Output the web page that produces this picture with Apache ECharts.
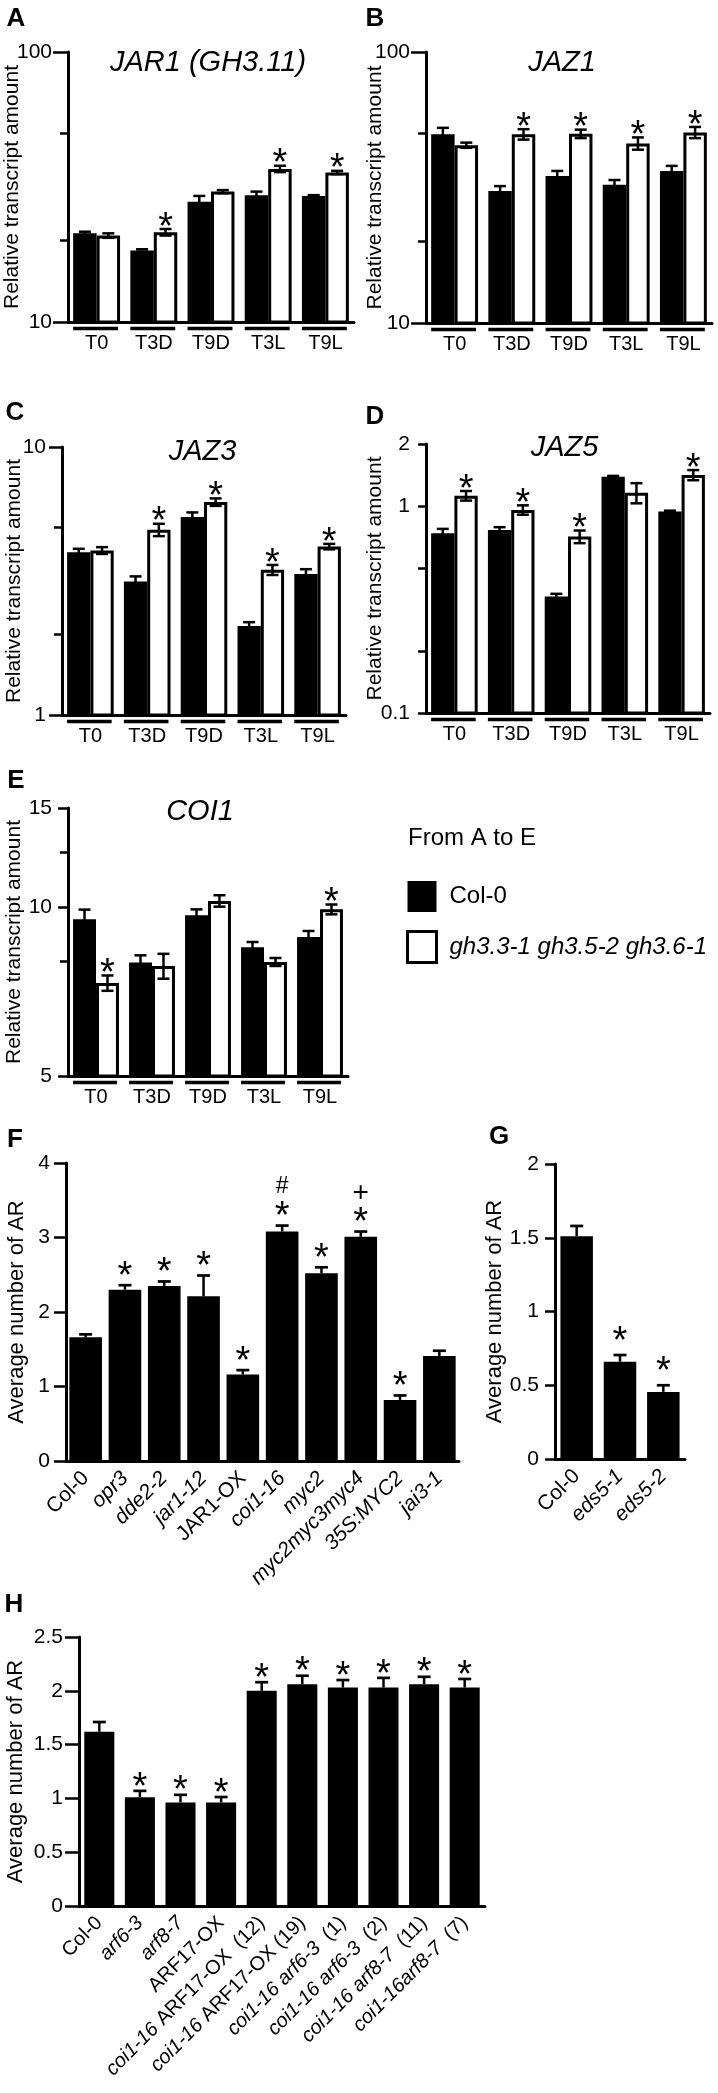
<!DOCTYPE html>
<html><head><meta charset="utf-8">
<script src="https://cdn.jsdelivr.net/npm/echarts@6/dist/echarts.min.js"></script>
<style>html,body{margin:0;padding:0;background:#fff}#c{width:718px;height:2093px}</style>
</head><body><div id="c"></div>
<script>
const FONT = '"Liberation Sans", Arial, Helvetica, sans-serif';
const COL_NAME = 'Col-0';
const MUT_NAME = 'gh3.3-1 gh3.5-2 gh3.6-1';

// ---------- A-E : transcript amounts ----------
const timeCats = ['T0', 'T3D', 'T9D', 'T3L', 'T9L'];

// A  JAR1 (GH3.11)
const jar1Col = [21.3, 18.4, 27.9, 29.5, 29.3];
const jar1ColErr = [0.3, 0.2, 1.4, 0.9, 0.2];
const jar1Mut = [20.9, 21.5, 30.4, 36.9, 35.8];
const jar1MutErr = [0.4, 0.6, 0.4, 1.0, 0.5];
const jar1Sig = [0, 1, 0, 1, 1];
const jar1Ticks = [10, 100];
const jar1Minor = [20, 50];

// B  JAZ1
const jaz1Col = [49.7, 30.7, 34.9, 32.4, 36.4];
const jaz1ColErr = [2.8, 1.3, 1.5, 1.3, 1.6];
const jaz1Mut = [45.3, 49.7, 49.9, 46.0, 50.5];
const jaz1MutErr = [1.0, 2.2, 1.8, 2.4, 2.4];
const jaz1Sig = [0, 1, 1, 1, 1];
const jaz1Ticks = [10, 100];
const jaz1Minor = [20, 50];

// C  JAZ3
const jaz3Col = [4.05, 3.15, 5.48, 2.15, 3.36];
const jaz3ColErr = [0.12, 0.14, 0.22, 0.07, 0.14];
const jaz3Mut = [4.11, 4.91, 6.23, 3.48, 4.25];
const jaz3MutErr = [0.12, 0.26, 0.2, 0.15, 0.1];
const jaz3Sig = [0, 1, 1, 1, 1];
const jaz3Ticks = [1, 10];
const jaz3Minor = [2, 5];

// D  JAZ5
const jaz5Col = [0.741, 0.768, 0.366, 1.39, 0.942];
const jaz5ColErr = [0.036, 0.024, 0.011, 0.012, 0.01];
const jaz5Mut = [1.125, 0.960, 0.713, 1.163, 1.416];
const jaz5MutErr = [0.06, 0.05, 0.05, 0.13, 0.08];
const jaz5Sig = [1, 1, 1, 0, 1];
const jaz5Ticks = [0.1, 1, 2];
const jaz5Minor = [0.2, 0.5];

// E  COI1
const coi1Col = [9.51, 7.96, 9.66, 8.48, 8.84];
const coi1ColErr = [0.38, 0.24, 0.24, 0.18, 0.22];
const coi1Mut = [7.32, 7.85, 10.25, 7.98, 9.90];
const coi1MutErr = [0.23, 0.4, 0.24, 0.13, 0.2];
const coi1Sig = [1, 0, 0, 0, 1];
const coi1Ticks = [5, 10, 15];
const coi1Minor = [8, 12.5];

// ---------- F ----------
const fCats = ['Col-0', 'opr3', 'dde2-2', 'jar1-12', 'JAR1-OX', 'coi1-16', 'myc2', 'myc2myc3myc4', '35S:MYC2', 'jai3-1'];
const fItalic = [false, true, true, true, false, true, true, true, true, true];
const fMean = [1.66, 2.30, 2.35, 2.21, 1.16, 3.08, 2.52, 3.01, 0.82, 1.41];
const fErr = [0.04, 0.06, 0.06, 0.28, 0.06, 0.08, 0.08, 0.07, 0.06, 0.07];
const fSig = [0, 1, 1, 1, 1, 1, 1, 1, 1, 0];
const fExtra = ['', '', '', '', '', '#', '', '+', '', ''];

// ---------- G ----------
const gCats = ['Col-0', 'eds5-1', 'eds5-2'];
const gItalic = [false, true, true];
const gMean = [1.51, 0.66, 0.455];
const gErr = [0.07, 0.045, 0.045];
const gSig = [0, 1, 1];
const gExtra = ['', '', ''];

// ---------- H ----------
const hCats = ['Col-0', 'arf6-3', 'arf8-7', 'ARF17-OX', 'coi1-16 ARF17-OX  (12)', 'coi1-16 ARF17-OX (19)',
  'coi1-16 arf6-3  (1)', 'coi1-16 arf6-3  (2)', 'coi1-16 arf8-7  (11)', 'coi1-16arf8-7  (7)'];
const hMean = [1.62, 1.01, 0.963, 0.963, 2.0, 2.06, 2.03, 2.03, 2.06, 2.03];
const hErr = [0.09, 0.06, 0.07, 0.05, 0.08, 0.08, 0.07, 0.09, 0.07, 0.08];
const hSig = [0, 1, 1, 1, 1, 1, 1, 1, 1, 1];
const hExtra = ['', '', '', '', '', '', '', '', '', ''];

// ---------- helpers ----------
const AST = 38;
function astText(x, yHi, gap) {
  return {type: 'text', style: {text: '*', x: x, y: yHi - gap + 0.083 * AST, align: 'center', verticalAlign: 'middle',
    font: 'normal ' + AST + 'px ' + FONT, fill: '#000'}};
}

function makePair(errArr, sigArr, isMut) {
  return function (params, api) {
    const i = params.dataIndex;
    const cs = params.coordSys;
    const cat = api.value(0), v = api.value(1);
    const p = api.coord([cat, v]);
    const band = api.coord([1, v])[0] - api.coord([0, v])[0];
    const bw = band * 0.82 / 2;
    const x0 = isMut ? p[0] : p[0] - bw;
    const yBot = cs.y + cs.height;
    const yTop = p[1];
    const e = errArr[i];
    const yHi = api.coord([cat, v + e])[1];
    const yLo = api.coord([cat, v - e])[1];
    const ex = x0 + bw / 2, cap = 6;
    const ch = [];
    if (isMut) {
      ch.push({type: 'rect', shape: {x: x0 + 1.5, y: yTop + 1.5, width: bw - 3, height: yBot - yTop - 1.5},
        style: {fill: '#fff', stroke: '#000', lineWidth: 3}});
    } else {
      ch.push({type: 'rect', shape: {x: x0, y: yTop, width: bw, height: yBot - yTop}, style: {fill: '#000'}});
      ch.push({type: 'line', shape: {x1: p[0] - bw, y1: yBot + 6.5, x2: p[0] + bw - 2, y2: yBot + 6.5},
        style: {stroke: '#000', lineWidth: 3.3}});
    }
    ch.push({type: 'line', shape: {x1: ex, y1: yHi, x2: ex, y2: yLo}, style: {stroke: '#000', lineWidth: 2.5}});
    ch.push({type: 'line', shape: {x1: ex - cap, y1: yHi, x2: ex + cap, y2: yHi}, style: {stroke: '#000', lineWidth: 2.5}});
    ch.push({type: 'line', shape: {x1: ex - cap, y1: yLo, x2: ex + cap, y2: yLo}, style: {stroke: '#000', lineWidth: 2.5}});
    if (sigArr && sigArr[i]) ch.push(astText(ex, yHi, 4));
    return {type: 'group', children: ch};
  };
}

function makeSingle(frac, errArr, sigArr, extraArr, gap) {
  return function (params, api) {
    const i = params.dataIndex;
    const cs = params.coordSys;
    const cat = api.value(0), v = api.value(1);
    const p = api.coord([cat, v]);
    const band = api.coord([1, v])[0] - api.coord([0, v])[0];
    const bw = band * frac;
    const yBot = cs.y + cs.height;
    const yHi = api.coord([cat, v + errArr[i]])[1];
    const ex = p[0], cap = 6.5;
    const ch = [];
    ch.push({type: 'rect', shape: {x: p[0] - bw / 2, y: p[1], width: bw, height: yBot - p[1]}, style: {fill: '#000'}});
    ch.push({type: 'line', shape: {x1: ex, y1: yHi, x2: ex, y2: p[1]}, style: {stroke: '#000', lineWidth: 2.5}});
    ch.push({type: 'line', shape: {x1: ex - cap, y1: yHi, x2: ex + cap, y2: yHi}, style: {stroke: '#000', lineWidth: 2.7}});
    if (sigArr[i]) {
      ch.push(astText(ex, yHi, gap));
      if (extraArr[i]) {
        const cy = yHi - gap - 0.15 * AST - 22;
        ch.push({type: 'text', style: {text: extraArr[i], x: ex, y: cy, align: 'center', verticalAlign: 'middle',
          font: 'normal ' + (extraArr[i] === '+' ? 28 : 23) + 'px ' + FONT, fill: '#000'}});
      }
    }
    return {type: 'group', children: ch};
  };
}

function logY(grid, min, max, major, minor, majorLen, nameGap) {
  return [{
    type: 'log', logBase: 10, gridIndex: grid, min: min, max: max, position: 'left', offset: 0,
    axisLine: {show: true, onZero: false, lineStyle: {color: '#000', width: 3}},
    axisTick: {show: true, customValues: major, length: majorLen, lineStyle: {color: '#000', width: 2.5}},
    axisLabel: {show: true, customValues: major, margin: 16, fontSize: 21, fontFamily: FONT, color: '#000'},
    splitLine: {show: false}, minorTick: {show: false},
    name: 'Relative transcript amount', nameLocation: 'middle', nameGap: nameGap, nameMoveOverlap: false,
    nameTextStyle: {fontSize: 21, fontFamily: FONT, color: '#000'}
  }, {
    type: 'log', logBase: 10, gridIndex: grid, min: min, max: max, position: 'left', offset: 0,
    axisLine: {show: false},
    axisTick: {show: true, customValues: minor, length: 8, lineStyle: {color: '#000', width: 2.5}},
    axisLabel: {show: false}, splitLine: {show: false}, minorTick: {show: false}
  }];
}

function valY(grid, max, interval, tickLen, nameGap) {
  return {
    type: 'value', gridIndex: grid, min: 0, max: max, interval: interval, position: 'left',
    axisLine: {show: true, onZero: false, lineStyle: {color: '#000', width: 3}},
    axisTick: {show: true, length: tickLen, lineStyle: {color: '#000', width: 2.5}},
    axisLabel: {margin: 16, fontSize: 21, fontFamily: FONT, color: '#000'},
    splitLine: {show: false},
    name: 'Average number of AR', nameLocation: 'middle', nameGap: nameGap, nameMoveOverlap: false,
    nameTextStyle: {fontSize: 22, fontFamily: FONT, color: '#000'}
  };
}

const richStyles = {
  i: {fontStyle: 'italic', fontSize: 21, fontFamily: FONT, color: '#000'},
  n: {fontStyle: 'normal', fontSize: 21, fontFamily: FONT, color: '#000'}
};
const richStylesH = {
  i: {fontStyle: 'italic', fontSize: 20, fontFamily: FONT, color: '#000'},
  n: {fontStyle: 'normal', fontSize: 20, fontFamily: FONT, color: '#000'}
};
function flagFormatter(flags) {
  return (v, i) => (flags[i] ? '{i|' : '{n|') + v + '}';
}
function genoFormatter(v) {
  return v.split(/(\s+)/).map(t => (t === '' || /^\s+$/.test(t)) ? t : (/^[a-z]/.test(t) ? '{i|' + t + '}' : '{n|' + t + '}')).join('');
}

function timeX(grid) {
  return {type: 'category', gridIndex: grid, data: timeCats,
    axisLine: {show: true, lineStyle: {color: '#000', width: 3}}, axisTick: {show: false},
    axisLabel: {margin: 11, fontSize: 20, fontFamily: FONT, color: '#000', interval: 0}};
}
function genoX(grid, cats, formatter, rich, fs) {
  return {type: 'category', gridIndex: grid, data: cats,
    axisLine: {show: true, lineStyle: {color: '#000', width: 3}}, axisTick: {show: false},
    axisLabel: {rotate: 45, margin: 14, interval: 0, fontSize: fs, fontFamily: FONT, color: '#000', formatter: formatter, rich: rich}};
}

const grids = [
  {left: 68, top: 52, width: 286, height: 270},
  {left: 426, top: 52, width: 286, height: 271},
  {left: 62, top: 447, width: 284, height: 268},
  {left: 426, top: 444, width: 284, height: 269},
  {left: 68, top: 808, width: 280, height: 268},
  {left: 66, top: 1163, width: 393, height: 298},
  {left: 555, top: 1164, width: 130, height: 295},
  {left: 79, top: 1637, width: 406, height: 269}
].map(g => Object.assign({outerBoundsMode: 'none', containLabel: false}, g));

const xAxes = [timeX(0), timeX(1), timeX(2), timeX(3), timeX(4),
  genoX(5, fCats, flagFormatter(fItalic), richStyles, 21),
  genoX(6, gCats, flagFormatter(gItalic), richStyles, 21),
  genoX(7, hCats, genoFormatter, richStylesH, 20)];

const yAxes = [].concat(
  logY(0, 10, 100, jar1Ticks, jar1Minor, 15, 45),
  logY(1, 10, 100, jaz1Ticks, jaz1Minor, 15, 40),
  logY(2, 1, 10, jaz3Ticks, jaz3Minor, 13, 37),
  logY(3, 0.1, 2, jaz5Ticks, jaz5Minor, 8, 40),
  logY(4, 5, 15, coi1Ticks, coi1Minor, 10, 43),
  [valY(5, 4, 1, 12, 38), valY(6, 2, 0.5, 10, 49), valY(7, 2.5, 0.5, 14, 52)]
);

function pairSeries(k, col, colErr, mut, mutErr, sig) {
  return [
    {type: 'custom', name: COL_NAME, xAxisIndex: k, yAxisIndex: k * 2, clip: false, itemStyle: {color: '#000'},
      data: col.map((v, i) => [i, v]), renderItem: makePair(colErr, null, false)},
    {type: 'custom', name: MUT_NAME, xAxisIndex: k, yAxisIndex: k * 2, clip: false, itemStyle: {color: '#fff', borderColor: '#000'},
      data: mut.map((v, i) => [i, v]), renderItem: makePair(mutErr, sig, true)}
  ];
}

const series = [].concat(
  pairSeries(0, jar1Col, jar1ColErr, jar1Mut, jar1MutErr, jar1Sig),
  pairSeries(1, jaz1Col, jaz1ColErr, jaz1Mut, jaz1MutErr, jaz1Sig),
  pairSeries(2, jaz3Col, jaz3ColErr, jaz3Mut, jaz3MutErr, jaz3Sig),
  pairSeries(3, jaz5Col, jaz5ColErr, jaz5Mut, jaz5MutErr, jaz5Sig),
  pairSeries(4, coi1Col, coi1ColErr, coi1Mut, coi1MutErr, coi1Sig),
  [
    {type: 'custom', name: 'F', xAxisIndex: 5, yAxisIndex: 10, clip: false, data: fMean.map((v, i) => [i, v]),
      renderItem: makeSingle(0.83, fErr, fSig, fExtra, 11)},
    {type: 'custom', name: 'G', xAxisIndex: 6, yAxisIndex: 11, clip: false, data: gMean.map((v, i) => [i, v]),
      renderItem: makeSingle(0.75, gErr, gSig, gExtra, 16)},
    {type: 'custom', name: 'H', xAxisIndex: 7, yAxisIndex: 12, clip: false, data: hMean.map((v, i) => [i, v]),
      renderItem: makeSingle(0.74, hErr, hSig, hExtra, 6)}
  ]
);

function label(t, x, y) {
  return {type: 'text', x: x, y: y, style: {text: t, font: 'bold 26px ' + FONT, align: 'center', verticalAlign: 'middle', fill: '#000'}};
}
function gene(t, x, y) {
  return {type: 'text', x: x, y: y, style: {text: t, font: 'italic 29px ' + FONT, align: 'center', verticalAlign: 'middle', fill: '#000'}};
}

const option = {
  animation: false,
  backgroundColor: '#fff',
  textStyle: {fontFamily: FONT, color: '#000'},
  grid: grids,
  xAxis: xAxes,
  yAxis: yAxes,
  series: series,
  legend: {
    orient: 'vertical', left: 406, top: 881, padding: 0, itemWidth: 29, itemHeight: 31, itemGap: 18,
    selectedMode: false,
    data: [
      {name: COL_NAME, icon: 'rect', itemStyle: {color: '#000', borderWidth: 0}},
      {name: MUT_NAME, icon: 'rect', itemStyle: {color: '#fff', borderColor: '#000', borderWidth: 3}}
    ],
    formatter: n => (n === COL_NAME ? '{n|' : '{i|') + n + '}',
    textStyle: {color: '#000', fontSize: 24, fontFamily: FONT,
      rich: {
        n: {fontSize: 24, fontFamily: FONT, color: '#000', padding: [0, 0, 0, 8]},
        i: {fontSize: 24, fontStyle: 'italic', fontFamily: FONT, color: '#000', padding: [0, 0, 0, 8]}
      }}
  },
  graphic: [
    label('A', 16, 18.5), label('B', 375, 18.5), label('C', 15, 413), label('D', 375, 417),
    label('E', 16, 781), label('F', 15, 1140), label('G', 499, 1137), label('H', 14, 1605),
    gene('JAR1 (GH3.11)', 208, 62.5), gene('JAZ1', 562, 62.5), gene('JAZ3', 202.5, 451.7),
    gene('JAZ5', 564.5, 448), gene('COI1', 200, 811.7),
    {type: 'text', x: 408, y: 838, style: {text: 'From A to E', font: 'normal 24px ' + FONT, align: 'left', verticalAlign: 'middle', fill: '#000'}}
  ]
};

const chart = echarts.init(document.getElementById('c'), null, {renderer: 'canvas', width: 718, height: 2093});
chart.setOption(option);
</script>
</body></html>
